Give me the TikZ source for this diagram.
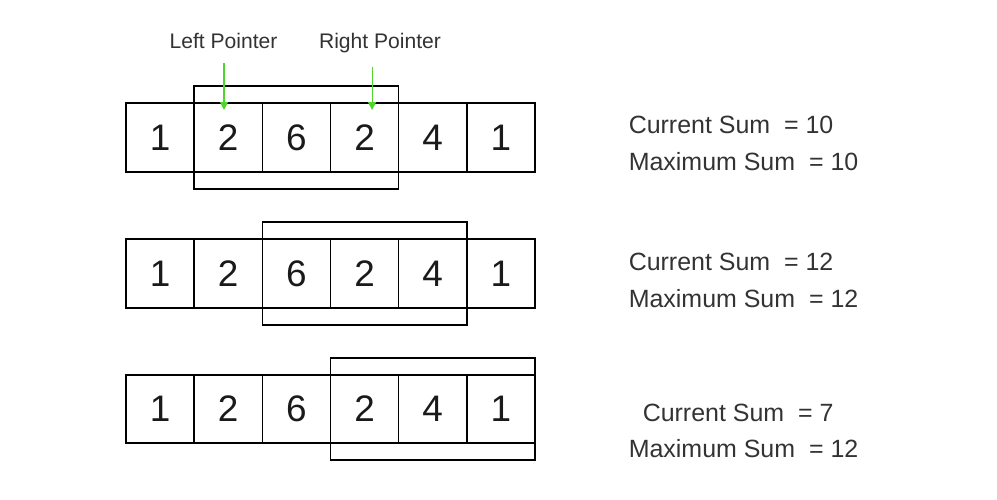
\documentclass[tikz,border=0pt]{standalone}
\usepackage{fontspec}
\setmainfont{Liberation Sans}
\usetikzlibrary{calc}
\usetikzlibrary{arrows.meta}
\definecolor{pointergreen}{HTML}{52D42E}
\definecolor{sumgray}{HTML}{333333}
\definecolor{digitgray}{HTML}{1A1A1A}
\tikzset{
	cell/.style={draw, minimum width=1.3633cm, minimum height=1.37cm, inner sep=0pt, outer sep=0pt,
		text=digitgray, font=\fontsize{21}{21}\selectfont},
	pointer/.style={anchor=base, text=sumgray, font=\fontsize{12}{12}\selectfont},
	ptr/.style={draw=pointergreen, line width=0.6pt, -{Triangle[width=4.5pt,length=4.5pt]}, shorten <=4pt},
	sumtext/.style={anchor=base west, inner xsep=0pt, text=sumgray, font=\fontsize{14.2}{14.2}\selectfont}
}

\begin{document}
\begin{tikzpicture}[line width=0.9pt]
	\useasboundingbox (0,0) rectangle (19.94,10);
	
	%the three rows of cells
	\foreach \v [count=\i] in {1,2,6,2,4,1}{
		\node[cell] (a\i) at ({2.52+1.3633*(\i-0.5)},7.25) {\v};	%top
		\node[cell] (b\i) at ({2.52+1.3633*(\i-0.5)},4.53) {\v};	%middle
		\node[cell] (c\i) at ({2.52+1.3633*(\i-0.5)},1.82) {\v};	%bottom
	}
	
	%windows
	\draw ($(a2.north west)+(0,0.34)$) rectangle ($(a4.south east)+(0,-0.34)$);
	\draw ($(b3.north west)+(0,0.34)$) rectangle ($(b5.south east)+(0,-0.34)$);
	\draw ($(c4.north west)+(0,0.34)$) rectangle ($(c6.south east)+(0,-0.34)$);
	
	%pointers
	\node[pointer] (lp) at (4.47,9.02) {Left Pointer};
	\node[pointer] (rp) at (7.6,9.02) {Right Pointer};
	\coordinate (lptip) at ($(a2.north)+(-0.085,-0.135)$);
	\coordinate (rptip) at ($(a4.north)+(0.15,-0.135)$);
	\draw[ptr] (lp.south -| lptip) -- (lptip);
	\draw[ptr] (rp.south -| rptip) -- (rptip);
	
	%sums
	\node[sumtext] (cur1) at (12.56,7.32) {Current Sum\ \ = 10};
	\node[sumtext] (max1) at (12.56,6.58) {Maximum Sum\ \ = 10};
	\node[sumtext] (cur2) at (12.56,4.58) {Current Sum\ \ = 12};
	\node[sumtext] (max2) at (12.56,3.84) {Maximum Sum\ \ = 12};
	\node[sumtext] (cur3) at (12.84,1.56) {Current Sum\ \ = 7};
	\node[sumtext] (max3) at (12.56,0.84) {Maximum Sum\ \ = 12};
\end{tikzpicture}
\end{document}
